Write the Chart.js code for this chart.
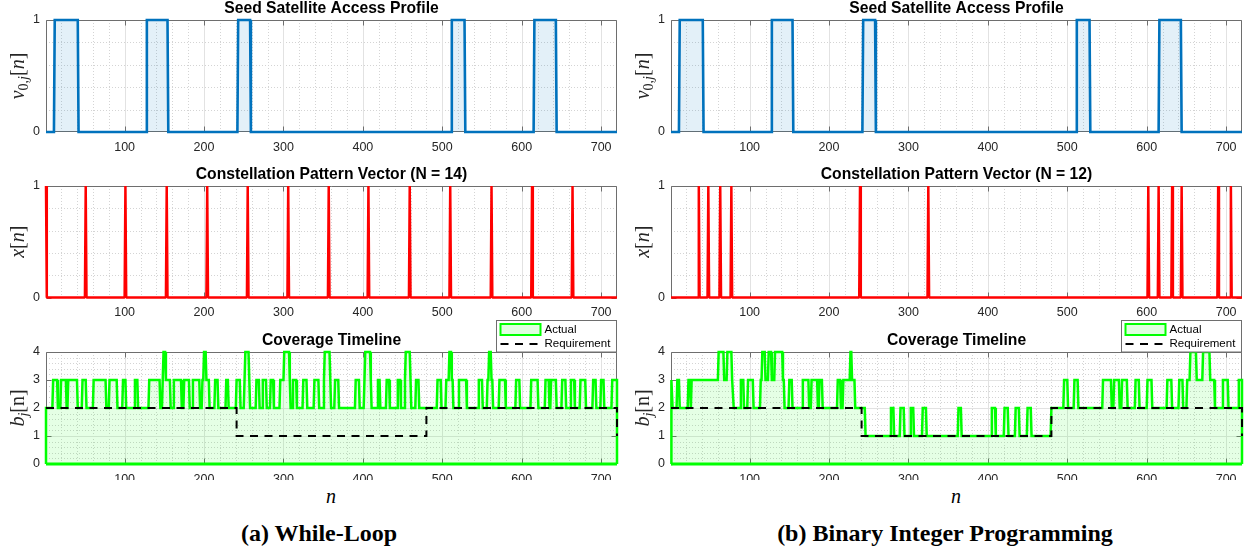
<!DOCTYPE html>
<html><head><meta charset="utf-8">
<script src="https://cdn.jsdelivr.net/npm/chart.js@4.4.1/dist/chart.umd.min.js"></script>
<style>
html,body{margin:0;padding:0;background:#fff}
body{width:1250px;height:554px;position:relative;overflow:hidden}
canvas{position:absolute}
.lab{position:absolute;font-family:"Liberation Serif","Times New Roman",serif;color:#000;white-space:nowrap;transform:translate(-50%,-50%)}
.cap{font-weight:bold;font-size:24px}
.nl{font-style:italic;font-size:20px}
</style></head><body>
<canvas id="c0"></canvas><canvas id="c1"></canvas><canvas id="c2"></canvas>
<canvas id="c3"></canvas><canvas id="c4"></canvas><canvas id="c5"></canvas>
<div class="lab nl" style="left:331px;top:496px">n</div>
<div class="lab nl" style="left:956px;top:496px">n</div>
<div class="lab cap" style="left:319px;top:533px">(a) While-Loop</div>
<div class="lab cap" style="left:945px;top:533px">(b) Binary Integer Programming</div>
<script>
// ---------------- data ----------------
const nMin = 1, nMax = 720;
const xTickValues = [100, 200, 300, 400, 500, 600, 700];
const accessYTicks = [0, 1];
const coverageYTicks = [0, 1, 2, 3, 4];
const accessStart = [12, 128, 243, 512, 616];
const accessEnd   = [41, 154, 258, 528, 643];
const spikesA = [1, 51, 101, 153, 204, 255, 306, 357, 407, 459, 510, 562, 613, 664];
const spikesB = [36, 48, 63, 77, 239, 325, 602, 615, 632, 644, 690, 706];
const reqStart = [1, 241, 480, 720];
const reqLevel = [2, 1, 2, 1];
const covAStart = [1,10,16,20,27,29,41,47,52,61,77,81,91,98,102,113,117,131,145,148,149,152,158,162,172,175,182,186,195,198,200,203,207,214,218,228,231,241,246,251,252,257,258,266,270,274,279,284,288,296,301,308,309,312,317,325,330,339,345,351,352,359,360,365,370,391,396,402,403,410,411,419,422,430,434,444,448,453,454,460,461,467,471,494,499,505,509,512,514,521,531,546,551,557,559,562,564,572,580,593,598,612,621,630,635,637,644,651,656,662,667,674,681,690,694,700,704,714];
const covALevel = [2,3,2,3,2,3,2,3,2,3,2,3,2,3,2,3,2,3,2,3,4,3,2,3,2,3,2,3,2,3,4,3,2,3,2,3,2,3,2,3,4,3,2,3,2,3,2,3,2,3,4,3,2,3,2,3,2,3,2,3,4,3,2,3,2,3,2,3,4,3,2,3,2,3,2,3,2,3,4,3,2,3,2,3,2,3,4,3,2,3,2,3,2,3,4,3,2,3,2,3,2,3,2,3,2,3,2,3,2,3,2,3,2,3,2,3,2,3];
const covBStart = [1,3,9,12,23,26,27,61,68,72,78,80,89,93,98,105,114,116,120,124,128,132,142,144,150,154,167,175,178,186,188,192,211,215,218,227,229,233,246,278,282,290,295,303,307,318,323,363,367,405,410,421,426,435,440,450,455,480,496,501,509,514,545,556,559,566,569,576,586,591,601,607,626,632,641,646,651,655,663,671,680,686,696,703,716];
const covBLevel = [3,2,3,2,3,2,3,4,3,4,3,2,3,2,3,2,3,4,3,4,3,4,3,2,3,2,3,2,3,2,3,2,3,2,3,4,3,2,1,2,1,2,1,2,1,2,1,2,1,2,1,2,1,2,1,2,1,2,3,2,3,2,3,2,3,2,3,2,3,2,3,2,3,2,3,2,3,4,3,4,3,2,3,2,3];

// ---------------- builders ----------------
function accessPoints() {
  const p = [{x: nMin, y: 0}];
  for (let i = 0; i < accessStart.length; i++) {
    p.push({x: accessStart[i] - 1, y: 0}, {x: accessStart[i], y: 1}, {x: accessEnd[i], y: 1}, {x: accessEnd[i] + 1, y: 0});
  }
  p.push({x: nMax, y: 0});
  return p;
}
function spikePoints(s) {
  const p = [];
  if (s[0] > nMin) p.push({x: nMin, y: 0});
  for (const v of s) {
    if (v > nMin) p.push({x: v - 1, y: 0});
    p.push({x: v, y: 1});
    if (v < nMax) p.push({x: v + 1, y: 0});
  }
  if (s[s.length - 1] < nMax) p.push({x: nMax, y: 0});
  return p;
}
function runPoints(st, lv) {
  const p = [{x: nMin, y: 0}, {x: nMin, y: lv[0]}];
  for (let i = 1; i < st.length; i++) p.push({x: st[i] - 1, y: lv[i - 1]}, {x: st[i], y: lv[i]});
  p.push({x: nMax, y: lv[lv.length - 1]}, {x: nMax, y: 0});
  return p;
}
function stairPoints(st, lv) {
  const p = [];
  for (let i = 0; i < st.length; i++) {
    p.push({x: st[i], y: lv[i]});
    if (i + 1 < st.length) p.push({x: st[i + 1], y: lv[i]});
  }
  return p;
}

// ---------------- drawing helpers ----------------
const SANS = '"Liberation Sans", Arial, Helvetica, sans-serif';
const SERIF = '"Liberation Serif", "Times New Roman", serif';

function drawMath(ctx, parts, cx, cy) {
  ctx.save();
  ctx.translate(cx, cy);
  ctx.rotate(-Math.PI / 2);
  ctx.fillStyle = '#262626';
  ctx.textBaseline = 'alphabetic';
  ctx.textAlign = 'left';
  const fonts = parts.map(q => (q.i ? 'italic ' : '') + (q.s ? '14px ' : '20px ') + SERIF);
  let total = 0;
  const widths = parts.map((q, k) => { ctx.font = fonts[k]; const w = ctx.measureText(q.t).width; total += w; return w; });
  let x = -total / 2;
  parts.forEach((q, k) => { ctx.font = fonts[k]; ctx.fillText(q.t, x, q.s ? 9 : 5); x += widths[k]; });
  ctx.restore();
}

const decor = {
  id: 'decor',
  beforeDatasetsDraw(chart) {
    const o = chart.options.plugins.decor;
    const {ctx, chartArea: a} = chart;
    const xs = chart.scales.x, ys = chart.scales.y;
    ctx.save();
    ctx.beginPath(); ctx.rect(a.left, a.top, a.right - a.left, a.bottom - a.top); ctx.clip();
    ctx.lineWidth = 1;
    ctx.strokeStyle = '#d4d4d4';
    ctx.setLineDash([1, 2]);
    ctx.beginPath();
    for (let v = 20; v < nMax; v += 20) {
      if (v % 100 === 0) continue;
      const px = Math.round(xs.getPixelForValue(v)) + 0.5;
      ctx.moveTo(px, a.top); ctx.lineTo(px, a.bottom);
    }
    const nMinor = Math.round(o.ymax / o.yMinor);
    for (let k = 1; k < nMinor; k++) {
      const v = k * o.yMinor;
      if (Math.abs(v - Math.round(v)) < 1e-6) continue;
      const py = Math.round(ys.getPixelForValue(v)) + 0.5;
      ctx.moveTo(a.left, py); ctx.lineTo(a.right, py);
    }
    ctx.stroke();
    ctx.setLineDash([]);
    ctx.strokeStyle = '#e2e2e2';
    ctx.beginPath();
    for (const v of xTickValues) {
      const px = Math.round(xs.getPixelForValue(v)) + 0.5;
      ctx.moveTo(px, a.top); ctx.lineTo(px, a.bottom);
    }
    for (const v of o.yticks) {
      if (v === 0 || v === o.ymax) continue;
      const py = Math.round(ys.getPixelForValue(v)) + 0.5;
      ctx.moveTo(a.left, py); ctx.lineTo(a.right, py);
    }
    ctx.stroke();
    ctx.restore();
    // axes box and inward ticks (under the data, like MATLAB)
    ctx.save();
    ctx.strokeStyle = '#6e6e6e';
    ctx.lineWidth = 1;
    ctx.beginPath();
    const L = Math.round(a.left) + 0.5, R = Math.round(a.right) - 0.5, T = Math.round(a.top) + 0.5, B = Math.round(a.bottom) - 0.5;
    ctx.rect(L, T, R - L, B - T);
    for (const v of xTickValues) {
      const px = Math.round(xs.getPixelForValue(v)) + 0.5;
      ctx.moveTo(px, B); ctx.lineTo(px, B - 5);
      ctx.moveTo(px, T); ctx.lineTo(px, T + 5);
    }
    for (const v of o.yticks) {
      const py = Math.round(ys.getPixelForValue(v)) + 0.5;
      ctx.moveTo(L, py); ctx.lineTo(L + 5, py);
      ctx.moveTo(R, py); ctx.lineTo(R - 5, py);
    }
    ctx.stroke();
    ctx.restore();
  },
  afterDraw(chart) {
    const o = chart.options.plugins.decor;
    const {ctx, chartArea: a} = chart;
    ctx.save();
    ctx.fillStyle = '#000';
    ctx.font = 'bold 15.7px ' + SANS;
    ctx.textAlign = 'center';
    ctx.textBaseline = 'middle';
    ctx.fillText(o.title, (a.left + a.right) / 2, a.top - 11);
    drawMath(ctx, o.ylabel, 19, (a.top + a.bottom) / 2);
    if (o.legend) {
      const bx = Math.round(a.right) - 121 + 0.5, by = 0.5, bw = 120, bh = Math.round(a.top) - 0.5;
      ctx.fillStyle = '#fff';
      ctx.fillRect(bx, by, bw, bh);
      ctx.strokeStyle = '#6e6e6e';
      ctx.lineWidth = 1;
      ctx.strokeRect(bx, by, bw, bh);
      ctx.fillStyle = 'rgba(0,255,0,0.12)';
      ctx.fillRect(bx + 4, 4, 40, 11);
      ctx.strokeStyle = '#00ff00';
      ctx.lineWidth = 2;
      ctx.strokeRect(bx + 4, 4, 40, 11);
      ctx.strokeStyle = '#000';
      ctx.setLineDash([8, 6.5]);
      ctx.beginPath(); ctx.moveTo(bx + 4, 24); ctx.lineTo(bx + 44, 24); ctx.stroke();
      ctx.setLineDash([]);
      ctx.fillStyle = '#000';
      ctx.font = '11.5px ' + SANS;
      ctx.textAlign = 'left';
      ctx.textBaseline = 'middle';
      ctx.fillText('Actual', bx + 48, 9.5);
      ctx.fillText('Requirement', bx + 48, 24);
    }
    ctx.restore();
  }
};

function makePanel(id, left, top, height, padTop, axisH, ymax, yticks, yMinor, title, ylabel, datasets, legend) {
  const cv = document.getElementById(id);
  cv.width = 625; cv.height = height;
  cv.style.left = left + 'px'; cv.style.top = top + 'px';
  cv.style.width = '625px'; cv.style.height = height + 'px';
  return new Chart(cv, {
    type: 'line',
    data: {datasets},
    options: {
      responsive: false, animation: false, devicePixelRatio: 1,
      layout: {padding: {left: 0, right: 8, top: padTop, bottom: 0}},
      elements: {point: {radius: 0, hoverRadius: 0}, line: {tension: 0}},
      plugins: {
        legend: {display: false}, tooltip: {enabled: false}, title: {display: false},
        decor: {title, ylabel, ymax, yticks, yMinor, legend}
      },
      scales: {
        x: {
          type: 'linear', min: nMin, max: nMax,
          grid: {display: false, drawTicks: false}, border: {display: false},
          afterBuildTicks: s => { s.ticks = xTickValues.map(v => ({value: v})); },
          afterFit: s => { s.height = axisH; },
          ticks: {padding: 8, color: '#262626', font: {family: SANS, size: 12.5}, maxRotation: 0, autoSkip: false}
        },
        y: {
          type: 'linear', min: 0, max: ymax,
          grid: {display: false, drawTicks: false}, border: {display: false},
          afterBuildTicks: s => { s.ticks = yticks.map(v => ({value: v})); },
          afterFit: s => { s.width = 46; },
          ticks: {padding: 6, color: '#262626', font: {family: SANS, size: 12.5}, autoSkip: false}
        }
      }
    },
    plugins: [decor]
  });
}

const clipM = {left: 3, right: 3, top: 3, bottom: 3};
function accessSet() {
  return [{data: accessPoints(), borderColor: '#0072BD', borderWidth: 2.6, backgroundColor: 'rgba(0,114,189,0.11)', fill: 'origin', clip: clipM, borderJoinStyle: 'miter'}];
}
function spikeSet(s) {
  return [{data: spikePoints(s), borderColor: '#FF0000', borderWidth: 2.5, fill: false, clip: clipM, borderJoinStyle: 'bevel'}];
}
function coverageSet(st, lv) {
  return [
    {data: stairPoints(reqStart, reqLevel), borderColor: '#000', borderWidth: 2, borderDash: [8, 6.5], fill: false, clip: clipM, order: 0},
    {data: runPoints(st, lv), borderColor: '#00FF00', borderWidth: 2.5, backgroundColor: 'rgba(0,255,0,0.1)', fill: 'origin', clip: clipM, order: 1, borderJoinStyle: 'miter'},
    {data: [{x: nMin, y: 0}, {x: nMax, y: 0}], borderColor: '#00FF00', borderWidth: 3, fill: false, clip: clipM, order: 2}
  ];
}

const vLabel = [{t: 'v', i: true}, {t: '0,', s: true}, {t: 'j', i: true, s: true}, {t: '['}, {t: 'n', i: true}, {t: ']'}];
const xLabel = [{t: 'x', i: true}, {t: '['}, {t: 'n', i: true}, {t: ']'}];
const bLabel = [{t: 'b', i: true}, {t: 'j', i: true, s: true}, {t: '[n]'}];

makePanel('c0', 0, 0, 160, 20, 28, 1, accessYTicks, 0.2, 'Seed Satellite Access Profile', vLabel, accessSet(), false);
makePanel('c1', 625, 0, 160, 20, 28, 1, accessYTicks, 0.2, 'Seed Satellite Access Profile', vLabel, accessSet(), false);
makePanel('c2', 0, 160, 160, 26, 22.5, 1, accessYTicks, 0.2, 'Constellation Pattern Vector (N = 14)', xLabel, spikeSet(spikesA), false);
makePanel('c3', 625, 160, 160, 26, 22.5, 1, accessYTicks, 0.2, 'Constellation Pattern Vector (N = 12)', xLabel, spikeSet(spikesB), false);
makePanel('c4', 0, 320, 160, 32, 16, 4, coverageYTicks, 0.2, 'Coverage Timeline', bLabel, coverageSet(covAStart, covALevel), true);
makePanel('c5', 625, 320, 160, 32, 16, 4, coverageYTicks, 0.2, 'Coverage Timeline', bLabel, coverageSet(covBStart, covBLevel), true);
</script>
</body></html>
